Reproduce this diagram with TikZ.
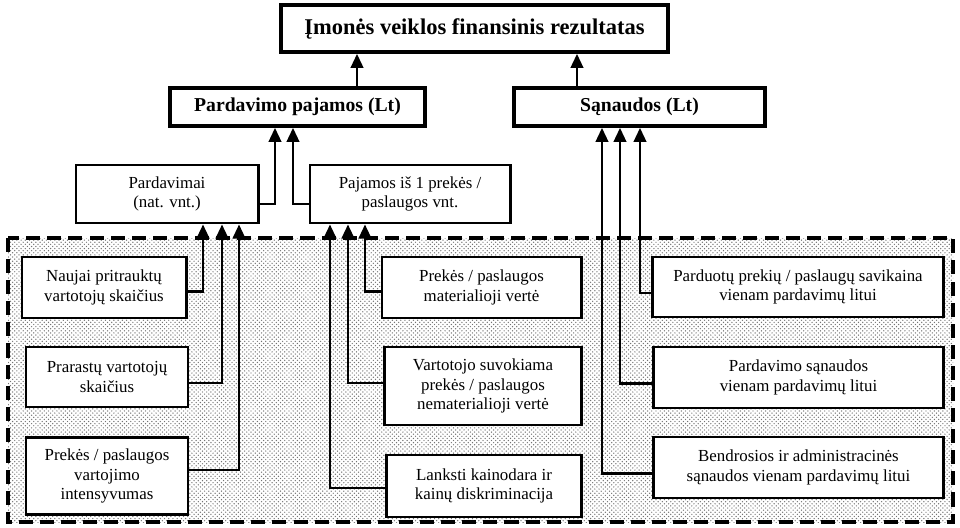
\documentclass[tikz,border=0pt]{standalone}
\usepackage{fontspec}
\setmainfont{Liberation Serif}
\usetikzlibrary{arrows.meta,patterns}

\begin{document}
\begin{tikzpicture}[x=0.025cm, y=-0.025cm,
  box/.style={draw, line width=2.1pt, fill=white, align=center, inner sep=2pt,
    font=\fontsize{12}{14}\selectfont},
  head/.style={box, line width=2.7pt, font=\fontsize{14}{16}\selectfont\bfseries},
  conn/.style={line width=1.6pt, -{Triangle[length=10pt,width=9pt]}}]
\useasboundingbox (0,0) rectangle (960,527);

% dotted area of the factors
\fill[white] (8,238) rectangle (953,522);
\fill[pattern=crosshatch dots, pattern color=black!55] (8,238) rectangle (953,522);
\draw[line width=2.6pt, dash pattern=on 10pt off 5pt] (8,238) rectangle (953,522);

\node[head, font=\fontsize{16}{18}\selectfont\bfseries, minimum width=9.675cm, minimum height=1.175cm]
  (title) at (474.5,28.5) {Įmonės veiklos finansinis rezultatas};
\node[head, minimum width=6.375cm, minimum height=0.95cm] (pajamos) at (297.5,107) {Pardavimo pajamos (Lt)};
\node[head, minimum width=6.275cm, minimum height=0.95cm] (sanaudos) at (639.5,107) {Sąnaudos (Lt)};

\node[box, minimum width=4.55cm, minimum height=1.45cm] (pardavimai) at (167,194) {Pardavimai\\(nat. vnt.)};
\node[box, minimum width=5cm, minimum height=1.45cm] (vnt) at (410,194) {Pajamos iš 1 prekės /\\paslaugos vnt.};

\node[box, minimum width=4.1cm, minimum height=1.525cm] (naujai) at (104,287.5) {Naujai pritrauktų\\vartotojų skaičius};
\node[box, minimum width=4.05cm, minimum height=1.5cm] (prarasta) at (107,377) {Prarastų vartotojų\\skaičius};
\node[box, minimum width=4.05cm, minimum height=1.925cm] (intens) at (107,476) {Prekės / paslaugos\\vartojimo\\intensyvumas};

\node[box, minimum width=4.975cm, minimum height=1.525cm] (materiali) at (481.5,287.5) {Prekės / paslaugos\\materialioji vertė};
\node[box, minimum width=4.925cm, minimum height=1.95cm] (nemateriali) at (483,386) {Vartotojo suvokiama\\prekės / paslaugos\\nematerialioji vertė};
\node[box, minimum width=4.875cm, minimum height=1.55cm] (kainodara) at (484,486) {Lanksti kainodara ir\\kainų diskriminacija};

\node[box, minimum width=7.275cm, minimum height=1.5cm] (savikaina) at (798,287) {Parduotų prekių / paslaugų savikaina\\vienam pardavimų litui};
\node[box, minimum width=7.225cm, minimum height=1.525cm] (pardsan) at (798.5,377.5) {Pardavimo sąnaudos\\vienam pardavimų litui};
\node[box, minimum width=7.225cm, minimum height=1.525cm] (bendros) at (798.5,467.5) {Bendrosios ir administracinės\\sąnaudos vienam pardavimų litui};

% upper level
\draw[conn] ([xshift=1.4875cm]pajamos.north) -- ([xshift=1.4875cm]pajamos.north |- title.south);
\draw[conn] ([xshift=-1.5625cm]sanaudos.north) -- ([xshift=-1.5625cm]sanaudos.north |- title.south);
\draw[conn] ([yshift=-0.25cm]pardavimai.east) -| ([xshift=-0.5625cm]pajamos.south);
\draw[conn] ([yshift=-0.25cm]vnt.west) -| ([xshift=-0.1125cm]pajamos.south);

% factors
\draw[conn] ([yshift=-0.1cm]naujai.east) -| ([xshift=0.9cm]pardavimai.south);
\draw[conn] ([yshift=-0.15cm]prarasta.east) -| ([xshift=1.375cm]pardavimai.south);
\draw[conn] ([yshift=0.15cm]intens.east) -| ([xshift=1.8cm]pardavimai.south);
\draw[conn] ([yshift=-0.1cm]materiali.west) -| ([xshift=-1.125cm]vnt.south);
\draw[conn] ([yshift=0.07cm]nemateriali.west) -| ([xshift=-1.55cm]vnt.south);
\draw[conn] ([yshift=-0.05cm]kainodara.west) -| ([xshift=-2cm]vnt.south);
\draw[conn] ([yshift=-0.15cm]savikaina.west) -| ([xshift=0.0125cm]sanaudos.south);
\draw[conn] ([yshift=-0.15cm]pardsan.west) -| ([xshift=-0.4875cm]sanaudos.south);
\draw[conn] ([yshift=-0.15cm]bendros.west) -| ([xshift=-0.9375cm]sanaudos.south);
\end{tikzpicture}
\end{document}
